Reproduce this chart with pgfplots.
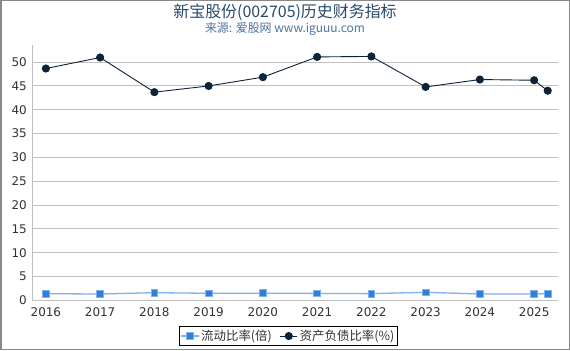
\documentclass[border=0pt]{standalone}
\usepackage{fontspec}
\setmainfont{DejaVu Sans}
\newfontfamily\cjk{Noto Sans CJK SC}
\usepackage{pgfplots}
\pgfplotsset{compat=1.18}
\definecolor{titlec}{HTML}{274B6D}
\definecolor{subc}{HTML}{4D759E}
\definecolor{blueS}{HTML}{2F7ED8}
\definecolor{blueL}{HTML}{7FB2EC}
\definecolor{navy}{HTML}{0D233A}
\definecolor{gridc}{HTML}{C0C0C0}
\definecolor{framec}{HTML}{888888}
\definecolor{labc}{HTML}{333333}
\begin{document}
\begin{tikzpicture}[x=1bp,y=1bp]
\fill[white] (0,0) rectangle (570,350);
\draw[framec, line width=1.5bp] (0.75,0.75) rectangle (569.25,349.25);
\node[text=titlec, font=\cjk\fontsize{16}{19}\selectfont] at (285,338) {新宝股份(002705)历史财务指标};
\node[text=subc, font=\cjk\fontsize{12}{14}\selectfont] at (285,321) {来源: 爱股网 www.iguuu.com};
\begin{axis}[
  at={(32.3bp,49.7bp)}, anchor=south west, scale only axis,
  width=525.7bp, height=255.3bp,
  xmin=2015.75, xmax=2025.44, ymin=0, ymax=53.6,
  xtick={2016,2017,2018,2019,2020,2021,2022,2023,2024,2025},
  ytick={0,5,10,15,20,25,30,35,40,45,50},
  axis x line*=bottom, axis y line*=left,
  axis line style={gridc, line width=1bp},
  ymajorgrids, grid style={gridc, line width=1bp},
  major tick length=0pt,
  /pgf/number format/assume math mode=true,
  /pgf/number format/1000 sep={},
  tick label style={font=\fontsize{12}{14}\selectfont, text=labc},
  yticklabel style={xshift=-2bp},
  xticklabel style={yshift=-4bp},
  legend style={at={(0.4875,-0.14)}, anchor=center, draw=black, line width=0.8bp,
    font=\cjk\fontsize{12.5}{14}\selectfont, text=labc, inner sep=1.5bp,
    /tikz/every even column/.append style={column sep=6bp}},
  legend columns=2,
  legend cell align=left,
]
\addplot[color=blueL, line width=1.3bp, mark=square*, mark size=3.3bp,
  mark options={fill=blueS, draw=blueL, line width=0.8bp}]
coordinates {(2016,1.39) (2017,1.32) (2018,1.6) (2019,1.47) (2020,1.5) (2021,1.45) (2022,1.4) (2023,1.68) (2024,1.32) (2025,1.32) (2025.25,1.39)};
\addlegendentry{流动比率(倍)}
\addplot[color=navy, line width=0.9bp, mark=*, mark size=3.6bp,
  mark options={fill=navy, draw=navy}]
coordinates {(2016,48.66) (2017,50.97) (2018,43.7) (2019,45.0) (2020,46.85) (2021,51.1) (2022,51.2) (2023,44.8) (2024,46.35) (2025,46.2) (2025.25,44.0)};
\addlegendentry{资产负债比率(\%)}
\end{axis}
\end{tikzpicture}
\end{document}
